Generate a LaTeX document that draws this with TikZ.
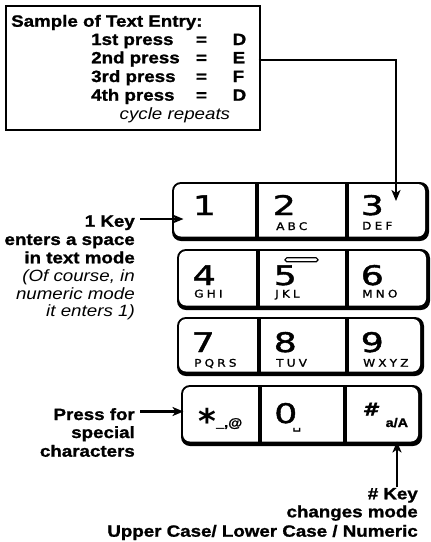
\documentclass[tikz,border=0pt]{standalone}
\usepackage{fontspec}
\setmainfont[FakeStretch=1.15,BoldFeatures={FakeBold=1.2}]{Liberation Sans}
\newfontfamily\keyfont[FakeStretch=1.35,FakeBold=1.6]{DejaVu Sans}
\newfontfamily\subfont[FakeStretch=1.15,LetterSpace=30,FakeBold=1.2]{DejaVu Sans}
\newfontfamily\symfont{DejaVu Sans}
\newfontfamily\hashfont[FakeStretch=1.2,FakeBold=0.8]{DejaVu Sans}
\usetikzlibrary{arrows.meta}
\begin{document}
\begin{tikzpicture}[x=1pt,y=-1pt,
  lbl/.style={font=\fontsize{16.3}{18}\selectfont\bfseries,inner sep=0},
  note/.style={font=\fontsize{16.3}{18}\selectfont\itshape,inner sep=0},
  arr/.style={line width=2.5pt,-{Stealth[length=11pt,width=9pt,inset=3pt]}},
  dig/.style={font=\keyfont\fontsize{27}{27}\selectfont,inner sep=0,anchor=base west},
  sublet/.style={font=\subfont\fontsize{10.5}{11}\selectfont,inner sep=0,anchor=base west},
  keysym/.style={font=\fontsize{12.5}{13}\selectfont\bfseries,inner sep=0,anchor=base west}]
\useasboundingbox (0,0) rectangle (431,542);
% sample box
\node[draw,line width=2.5pt,minimum width=254pt,minimum height=124pt,inner sep=0,anchor=north west] (box) at (4.5,4.5) {};
\node[lbl,anchor=base west] (title) at (11,26.7) {Sample of Text Entry:};
\foreach \y/\p/\c/\n in {45/1st/D/a, 63.3/2nd/E/b, 82/3rd/F/c, 100.7/4th/D/d} {
  \node[lbl,anchor=base west] (p\n) at (91,\y) {\p\ press};
  \node[lbl,anchor=base] (e\n) at (201.5,\y) {=};
  \node[lbl,anchor=base west] (l\n) at (232.5,\y) {\c};
}
\node[note,anchor=base west] (cyc) at (119.5,119) {cycle repeats};
% keypad rows
\foreach \l/\t/\r/\b/\sa/\sb in {172/182/429/241/257/347, 177/249/430/310/258/347, 177/317/424/376/259/347, 181/385/422/446/260/345} {
  \fill[rounded corners=9pt] (\l,\t) rectangle (\r,\b);
  \fill[white,rounded corners=7pt] ({\l+2},{\t+2}) rectangle ({\r-4},{\b-4.5});
  \fill ({\sa-2},\t) rectangle ({\sa+2},\b);
  \fill ({\sb-2},\t) rectangle ({\sb+2},\b);
}
% key labels
\node[dig,anchor=base] (k1) at (204.5,215) {1};
\node[dig] (k2) at (272.5,215) {2};
\node[sublet] (s2) at (276,230) {ABC};
\node[dig] (k3) at (360.5,215) {3};
\node[sublet] (s3) at (362,229.5) {DEF};
\node[dig] (k4) at (192.5,285) {4};
\node[sublet] (s4) at (194,297.5) {GHI};
\node[dig] (k5) at (273.5,285) {5};
\node[sublet] (s5) at (275,297.5) {JKL};
\draw[line width=1.2pt,rounded corners=1.8pt,fill=white] (285,257.8) rectangle (318,261.7);
\node[dig] (k6) at (360.5,285) {6};
\node[sublet] (s6) at (362,297.5) {MNO};
\node[dig] (k7) at (191.5,352) {7};
\node[sublet] (s7) at (194,366.7) {PQRS};
\node[dig] (k8) at (273.5,352) {8};
\node[sublet] (s8) at (276,366.7) {TUV};
\node[dig] (k9) at (360.5,352) {9};
\node[sublet] (s9) at (363,366.7) {WXYZ};
\node[inner sep=0,anchor=base,font=\symfont\bfseries\fontsize{34}{34}\selectfont] (kst) at (207,433) {*};
\node[keysym] (sst) at (216,427) {\_,@};
\node[dig] (k0) at (274,423) {0};
\node[inner sep=0,anchor=base west,font=\symfont\bfseries\fontsize{12}{12}\selectfont] (s0) at (292.5,429) {␣};
\node[inner sep=0,anchor=base,font=\hashfont\fontsize{18}{18}\selectfont\bfseries\itshape] (kh) at (370,415.5) {\#};
\node[keysym] (sh) at (385.5,427) {a/A};
% left notes
\node[lbl,anchor=base east] (n1) at (135,226.7) {1 Key};
\node[lbl,anchor=base east] (n2) at (135,245) {enters a space};
\node[lbl,anchor=base east] (n3) at (135,263.3) {in text mode};
\node[note,anchor=base east] (n4) at (135,281) {(Of course, in};
\node[note,anchor=base east] (n5) at (135,299) {numeric mode};
\node[note,anchor=base east] (n6) at (135,316.7) {it enters 1)};
\node[lbl,anchor=base east] (m1) at (135,420) {Press for};
\node[lbl,anchor=base east] (m2) at (135,438) {special};
\node[lbl,anchor=base east] (m3) at (135,456.7) {characters};
\node[lbl,anchor=base east] (h1) at (418,499.3) {\# Key};
\node[lbl,anchor=base east] (h2) at (418,517.3) {changes mode};
\node[lbl,anchor=base east] (h3) at (418,536.7) {Upper Case/ Lower Case / Numeric};
% connectors
\coordinate (boxout) at (258.5,60);
\coordinate (bend) at (396,60);
\coordinate (in3) at (396,201);
\draw[arr] (boxout) -- (bend) -- (in3);
\coordinate (from1) at (140,219);
\coordinate (in1) at (183.5,219);
\draw[arr] (from1) -- (in1);
\coordinate (fromst) at (140,411.5);
\coordinate (inst) at (183.5,411.5);
\draw[arr] (fromst) -- (inst);
\coordinate (fromh) at (397,487);
\coordinate (inh) at (397,441.5);
\draw[arr] (fromh) -- (inh);
\end{tikzpicture}
\end{document}
